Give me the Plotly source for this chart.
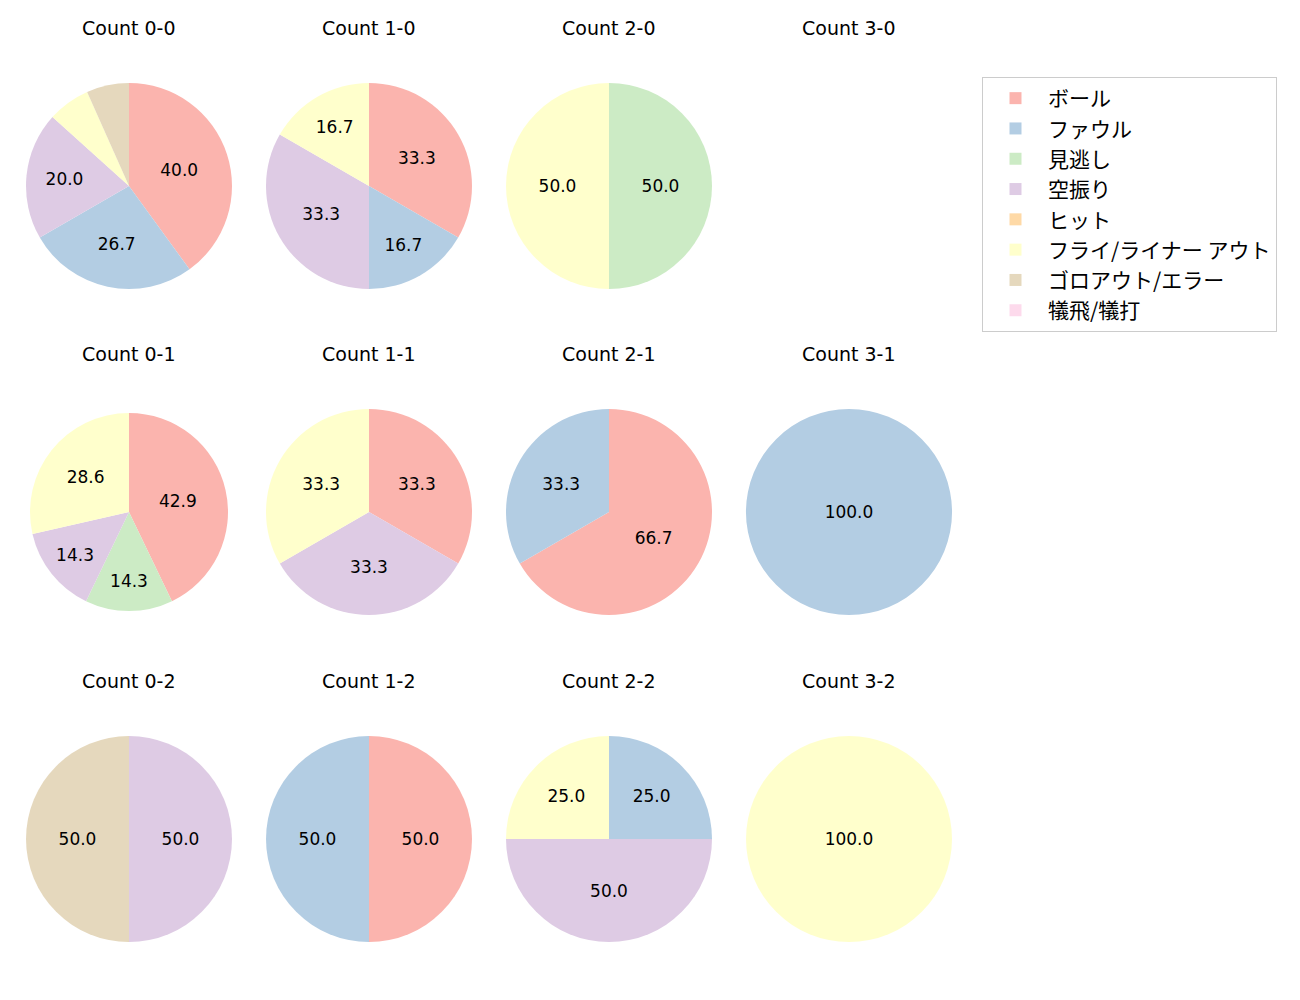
"""Pitch result breakdown by ball-strike count."""

import plotly.graph_objects as go

LABELS = [
    "ボール",
    "ファウル",
    "見逃し",
    "空振り",
    "ヒット",
    "フライ/ライナー アウト",
    "ゴロアウト/エラー",
    "犠飛/犠打",
]
COLORS = [
    "#fbb4ae",
    "#b3cde3",
    "#ccebc5",
    "#decbe4",
    "#fed9a6",
    "#ffffcc",
    "#e5d8bd",
    "#fddaec",
]

# pitch counts per result, in LABELS order (None = no pitches at that count)
COUNT_0_0 = [6, 4, 0, 3, 0, 1, 1, 0]
COUNT_1_0 = [2, 1, 0, 2, 0, 1, 0, 0]
COUNT_2_0 = [0, 0, 1, 0, 0, 1, 0, 0]
COUNT_3_0 = None
COUNT_0_1 = [3, 0, 1, 1, 0, 2, 0, 0]
COUNT_1_1 = [1, 0, 0, 1, 0, 1, 0, 0]
COUNT_2_1 = [2, 1, 0, 0, 0, 0, 0, 0]
COUNT_3_1 = [0, 1, 0, 0, 0, 0, 0, 0]
COUNT_0_2 = [0, 0, 0, 1, 0, 0, 1, 0]
COUNT_1_2 = [1, 1, 0, 0, 0, 0, 0, 0]
COUNT_2_2 = [0, 1, 0, 2, 0, 1, 0, 0]
COUNT_3_2 = [0, 0, 0, 0, 0, 1, 0, 0]

GRID = [
    [("Count 0-0", COUNT_0_0), ("Count 1-0", COUNT_1_0), ("Count 2-0", COUNT_2_0), ("Count 3-0", COUNT_3_0)],
    [("Count 0-1", COUNT_0_1), ("Count 1-1", COUNT_1_1), ("Count 2-1", COUNT_2_1), ("Count 3-1", COUNT_3_1)],
    [("Count 0-2", COUNT_0_2), ("Count 1-2", COUNT_1_2), ("Count 2-2", COUNT_2_2), ("Count 3-2", COUNT_3_2)],
]

W, H = 1300, 1000
PAGE_PAD = 8  # browser body margin around the plot div
COL_X = [129, 369, 609, 849]
ROW_Y = [186, 512, 839]
RADIUS = 103
TITLE_OFFSET = 158
LATIN = "DejaVu Sans"
CJK = "Noto Sans CJK JP"


def px_x(x):
    return (x - PAGE_PAD) / W


def px_y(y):
    return 1 - (y - PAGE_PAD) / H


fig = go.Figure()
annotations = []
legend_done = False

for r, row in enumerate(GRID):
    for c, (title, values) in enumerate(row):
        cx, cy = COL_X[c], ROW_Y[r]
        annotations.append(
            dict(
                text=title,
                x=px_x(cx),
                y=px_y(cy - TITLE_OFFSET),
                xref="paper",
                yref="paper",
                xanchor="center",
                yanchor="middle",
                showarrow=False,
                font=dict(family=LATIN, size=19, color="#000000"),
            )
        )
        if values is None:
            continue
        rad = 99 if title == "Count 0-1" else RADIUS
        total = sum(values)
        # small slices get no label, like the original autopct cut-off
        templates = [
            f"{v / total * 100:.1f}" if v / total * 100 >= 10 else "" for v in values
        ]
        fig.add_trace(
            go.Pie(
                labels=LABELS,
                values=values,
                sort=False,
                direction="clockwise",
                rotation=0,
                marker=dict(colors=COLORS, line=dict(width=0)),
                texttemplate=templates,
                textposition="inside",
                insidetextorientation="horizontal",
                textfont=dict(family=LATIN, size=17, color="#000000"),
                hoverinfo="label+percent",
                showlegend=not legend_done,
                domain=dict(
                    x=[px_x(cx - rad), px_x(cx + rad)],
                    y=[px_y(cy + rad), px_y(cy - rad)],
                ),
            )
        )
        legend_done = True

fig.update_layout(
    width=W,
    height=H,
    autosize=False,
    margin=dict(l=0, r=0, t=0, b=0),
    paper_bgcolor="white",
    plot_bgcolor="white",
    font=dict(family=CJK, size=21, color="#000000"),
    annotations=annotations,
    uniformtext=dict(minsize=10, mode="show"),
    legend=dict(
        x=px_x(982),
        y=px_y(77),
        xanchor="left",
        yanchor="top",
        bordercolor="#cccccc",
        borderwidth=1,
        bgcolor="white",
        font=dict(family=CJK, size=21),
        itemwidth=55,
        traceorder="normal",
    ),
)

fig.write_html("out.html")
